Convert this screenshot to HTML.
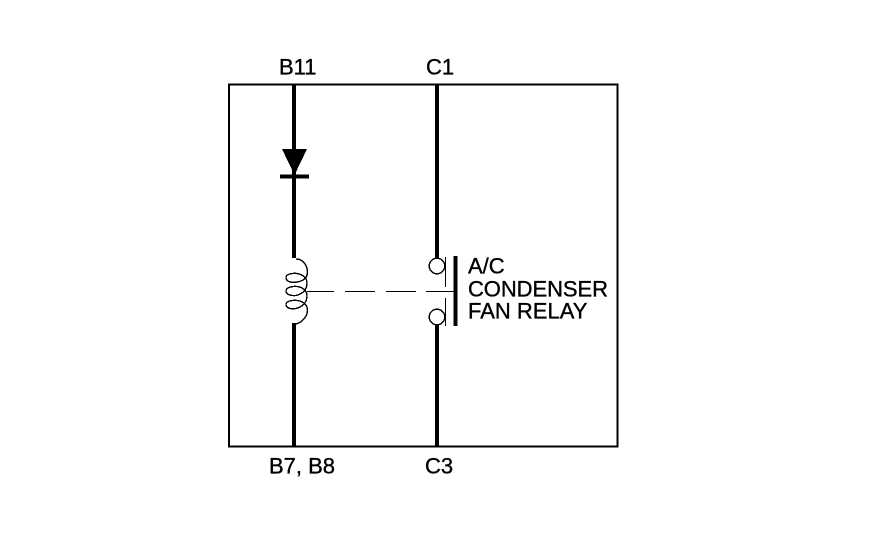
<!DOCTYPE html>
<html>
<head>
<meta charset="utf-8">
<style>
html,body{margin:0;padding:0;background:#fff;width:880px;height:534px;overflow:hidden}
svg{display:block}
text{font-family:"Liberation Sans",Arial,sans-serif;font-size:22px;fill:#000;stroke:#000;stroke-width:0.35px}
</style>
</head>
<body>
<svg width="880" height="534" viewBox="0 0 880 534" xmlns="http://www.w3.org/2000/svg">
  <rect x="229" y="84.500" width="388.500" height="362" fill="none" stroke="#000" stroke-width="2.400" shape-rendering="crispEdges"/>
  <g stroke="#000" stroke-width="4" fill="none" shape-rendering="crispEdges">
    <path d="M294 84V258M294 323V447"/>
    <path d="M437 84V258M437 323V447"/>
    <path d="M280 176.500H309" stroke-width="3.600"/>
    <path d="M455.500 256V326"/>
  </g>
  <path d="M282 149H307L294.500 175Z" fill="#000" shape-rendering="crispEdges"/>
  <g stroke="#000" stroke-width="1.400" fill="none" shape-rendering="crispEdges">
    <path d="M296 259C306 259 307.500 270 307.500 272C307.500 278 303 281 297 282C291 283.500 286 281 286 277.500C286 274 292 273 297 273.500C303 274.500 307 278 307 283C307 289 303 294 296 295.500C291 296 286 294.500 286 291C286 287.500 292 286 297 286.500C303 287 307 291 307 296C307 302 303 306.500 296 308.500C291 309.500 286 308 286 304.500C286 301 292 300 297 300.500C303 301 307.500 305 307.500 310C307.500 316 303 322 296 324"/>
    <circle cx="437" cy="266" r="7.800" fill="#fff"/>
    <circle cx="437" cy="317" r="7.800" fill="#fff"/>
  </g>
  <g stroke="#000" stroke-width="1" fill="none" shape-rendering="crispEdges">
    <path d="M445.500 257V287M445.500 298V326"/>
    <path d="M307 291.500H334M345 291.500H375M386 291.500H416M426 291.500H455"/>
  </g>
  <text x="279" y="74.500">B11</text>
  <text x="426" y="74.500">C1</text>
  <text x="269" y="473.500">B7, B8</text>
  <text x="425" y="473.500">C3</text>
  <text x="468" y="273.500">A/C</text>
  <text x="468" y="296.500" textLength="140">CONDENSER</text>
  <text x="468" y="318.500">FAN RELAY</text>
</svg>
</body>
</html>
